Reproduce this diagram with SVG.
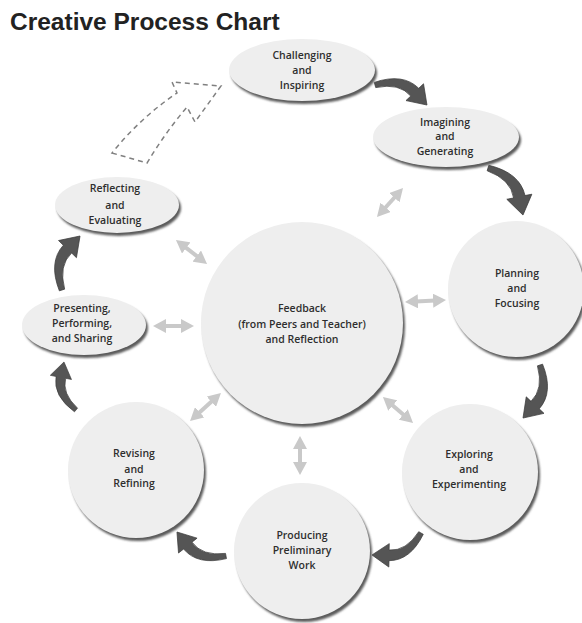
<svg xmlns="http://www.w3.org/2000/svg" width="582" height="623" viewBox="0 0 582 623">
  <style>
    .title { font-family: "Liberation Sans", Arial, sans-serif; font-weight: bold; font-size: 24.5px; fill: #222; }
    .lbl { font-family: "Open Sans", "Noto Sans", sans-serif; font-weight: 600; font-size: 10.5px; fill: #2e2e2e; text-anchor: middle; }
    .node { fill: #eeeeee; }
    .shadow { fill: #5c5c5c; filter: url(#soft); }
    .flow { fill: #555555; stroke: #3a3a3a; stroke-width: 0.6; }
    .fb { stroke: #c9c9c9; stroke-width: 4; fill: none; marker-start: url(#grayHead); marker-end: url(#grayHead); }
    .loop { fill: none; stroke: #808080; stroke-width: 1.5; stroke-dasharray: 5 4; }
  </style>
  <defs>
    <filter id="soft" x="-10%" y="-10%" width="120%" height="120%">
      <feGaussianBlur stdDeviation="0.9"/>
    </filter>
    <marker id="grayHead" markerUnits="userSpaceOnUse" markerWidth="13" markerHeight="14" viewBox="0 0 13 14" refX="7" refY="7" orient="auto-start-reverse">
      <path d="M0,0 L13,7 L0,14 Z" fill="#c9c9c9"/>
    </marker>
    <!-- curved block arrow: tail at origin, tip near (50,1) -->
    <path id="bend" d="M -1.4,-2 Q 20,-19 38.2,-10.5 L 40.9,-15.8 L 50.3,1.2 L 31.1,3.8 L 33.8,-1.5 Q 20,-9.5 1.4,2 Z"/>
  </defs>

  <rect width="582" height="623" fill="#ffffff"/>

  <text class="title" x="10" y="30">Creative Process Chart</text>

  <!-- connectors -->
  <g id="connectors">
    <!-- main cycle -->
    <use href="#bend" class="flow" transform="translate(375,85) rotate(19.7) scale(1.107)"/>
    <use href="#bend" class="flow" transform="translate(488,168) rotate(52) scale(1.165)"/>
    <use href="#bend" class="flow" transform="translate(540,365) rotate(106.4) scale(1.107)"/>
    <use href="#bend" class="flow" transform="translate(421,533) rotate(154.5) scale(1.068)"/>
    <use href="#bend" class="flow" transform="translate(226,556) rotate(204.7) scale(1.085)"/>
    <use href="#bend" class="flow" transform="translate(76,410) rotate(254.6) scale(0.984)"/>
    <use href="#bend" class="flow" transform="translate(62,290) rotate(-72.9) scale(1.131)"/>
    <!-- return path to the start -->
    <path class="loop" d="M 112,153 L 147,163 Q 165,133 187,107 L 195,122 L 221,86 L 172,82 L 177,93 Q 140,118 112,153 Z"/>
    <!-- feedback links -->
    <line class="fb" x1="381" y1="212.5" x2="399" y2="192.5"/>
    <line class="fb" x1="180.7" y1="243.7" x2="202.3" y2="260.3"/>
    <line class="fb" x1="159" y1="326" x2="188" y2="326"/>
    <line class="fb" x1="411" y1="301.7" x2="440" y2="300.3"/>
    <line class="fb" x1="194.5" y1="417" x2="216.5" y2="397"/>
    <line class="fb" x1="387.5" y1="401" x2="408.5" y2="419"/>
    <line class="fb" x1="300" y1="442" x2="300" y2="469"/>
  </g>

  <g id="challenging">
    <ellipse class="shadow" cx="304" cy="73" rx="73" ry="31"/>
    <ellipse class="node" cx="302" cy="70" rx="73" ry="31"/>
    <text class="lbl" x="302" y="59">Challenging</text>
    <text class="lbl" x="302" y="74">and</text>
    <text class="lbl" x="302" y="89">Inspiring</text>
  </g>

  <g id="imagining">
    <ellipse class="shadow" cx="448" cy="140" rx="73" ry="30"/>
    <ellipse class="node" cx="446" cy="137" rx="73" ry="30"/>
    <text class="lbl" x="445" y="126">Imagining</text>
    <text class="lbl" x="445" y="140">and</text>
    <text class="lbl" x="445" y="155">Generating</text>
  </g>

  <g id="reflecting">
    <ellipse class="shadow" cx="119" cy="208" rx="62" ry="28"/>
    <ellipse class="node" cx="117" cy="205" rx="62" ry="28"/>
    <text class="lbl" x="115" y="192">Reflecting</text>
    <text class="lbl" x="115" y="209">and</text>
    <text class="lbl" x="115" y="224">Evaluating</text>
  </g>

  <g id="presenting">
    <ellipse class="shadow" cx="86" cy="328" rx="62" ry="30"/>
    <ellipse class="node" cx="84" cy="325" rx="62" ry="30"/>
    <text class="lbl" x="82" y="312">Presenting,</text>
    <text class="lbl" x="82" y="327">Performing,</text>
    <text class="lbl" x="82" y="342">and Sharing</text>
  </g>

  <g id="feedback">
    <circle class="shadow" cx="304" cy="326" r="101"/>
    <circle class="node" cx="302" cy="323" r="101"/>
    <text class="lbl" x="302" y="312">Feedback</text>
    <text class="lbl" x="302" y="328">(from Peers and Teacher)</text>
    <text class="lbl" x="302" y="343">and Reflection</text>
  </g>

  <g id="planning">
    <circle class="shadow" cx="518" cy="292" r="68"/>
    <circle class="node" cx="516" cy="289" r="68"/>
    <text class="lbl" x="517" y="277">Planning</text>
    <text class="lbl" x="517" y="292">and</text>
    <text class="lbl" x="517" y="307">Focusing</text>
  </g>

  <g id="exploring">
    <circle class="shadow" cx="472" cy="475" r="68"/>
    <circle class="node" cx="470" cy="472" r="68"/>
    <text class="lbl" x="469" y="458">Exploring</text>
    <text class="lbl" x="469" y="473">and</text>
    <text class="lbl" x="469" y="488">Experimenting</text>
  </g>

  <g id="producing">
    <circle class="shadow" cx="304" cy="554" r="68"/>
    <circle class="node" cx="302" cy="551" r="68"/>
    <text class="lbl" x="302" y="539">Producing</text>
    <text class="lbl" x="302" y="554">Preliminary</text>
    <text class="lbl" x="302" y="569">Work</text>
  </g>

  <g id="revising">
    <circle class="shadow" cx="138" cy="473" r="68"/>
    <circle class="node" cx="136" cy="470" r="68"/>
    <text class="lbl" x="134" y="457">Revising</text>
    <text class="lbl" x="134" y="473">and</text>
    <text class="lbl" x="134" y="487">Refining</text>
  </g>
</svg>
